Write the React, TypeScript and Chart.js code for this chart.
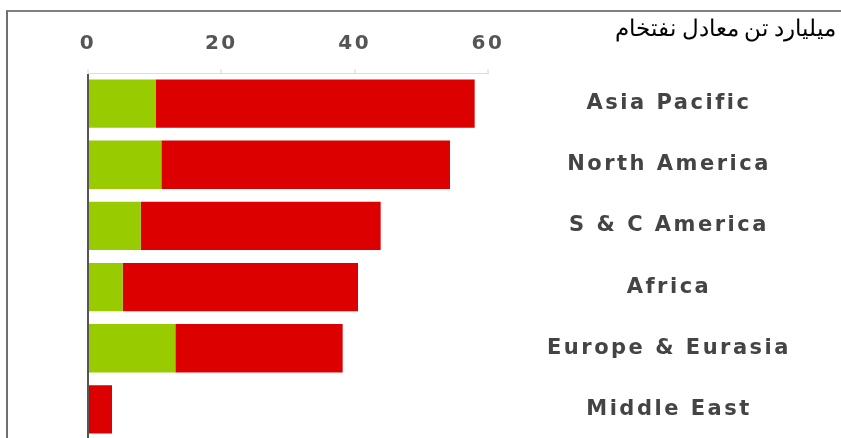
import React, { useEffect, useRef } from "react";
import { Chart, registerables } from "chart.js";

Chart.register(...registerables);

const categories = ["Asia Pacific", "North America", "S & C America", "Africa", "Europe & Eurasia", "Middle East"];
const greenValues = [10.2, 11.0, 7.9, 5.2, 13.1, 0];
const redValues = [47.8, 43.3, 36.0, 35.3, 25.1, 3.6];
const xMin = 0;
const xMax = 60;
const xStep = 20;
const unitTitle = "میلیارد تن معادل نفتخام";

const LABEL_FONT = "bold 21px 'DejaVu Sans'";
const SPACING = "2.5px";

export default function App() {
  const ref = useRef<HTMLCanvasElement | null>(null);

  useEffect(() => {
    const canvas = ref.current;
    if (!canvas) return;

    // measure widest category label so labels centre on a fixed column
    const tmp = document.createElement("canvas").getContext("2d") as any;
    tmp.font = LABEL_FONT;
    tmp.letterSpacing = SPACING;
    let widest = 0;
    categories.forEach((c) => {
      widest = Math.max(widest, tmp.measureText(c).width);
    });
    const plotRight = 488;
    const labelCenter = 661;
    const yPad = labelCenter - plotRight - widest / 2;

    const spacingPlugin = {
      id: "spacing",
      beforeLayout(chart: any) {
        chart.ctx.letterSpacing = SPACING;
      },
      beforeDraw(chart: any) {
        chart.ctx.letterSpacing = SPACING;
      },
    };

    const chart = new Chart(canvas, {
      type: "bar",
      data: {
        labels: categories,
        datasets: [
          { data: greenValues, backgroundColor: "#99CC00", barPercentage: 1, categoryPercentage: 0.79 },
          { data: redValues, backgroundColor: "#DD0000", barPercentage: 1, categoryPercentage: 0.79 },
        ],
      },
      options: {
        indexAxis: "y",
        animation: false,
        responsive: false,
        devicePixelRatio: 1,
        layout: { padding: { left: 88, right: 0, top: 18, bottom: 0 } },
        plugins: { legend: { display: false }, tooltip: { enabled: false }, title: { display: false } },
        scales: {
          x: {
            position: "top",
            stacked: true,
            min: xMin,
            max: xMax,
            z: 1,
            ticks: {
              stepSize: xStep,
              color: "#555",
              font: { family: "'DejaVu Sans'", size: 20, weight: "bold" },
              padding: 13.5,
            },
            grid: {
              display: true,
              drawOnChartArea: true,
              color: (ctx: any) => (ctx.tick && ctx.tick.value === 0 ? "#555" : "rgba(0,0,0,0)"),
              lineWidth: 2,
              tickLength: 4,
              tickColor: "#d6d6de",
              tickWidth: 1,
            },
            border: { display: true, color: "#dcdce4", width: 1 },
          },
          y: {
            position: "right",
            stacked: true,
            ticks: {
              color: "#444",
              font: { family: "'DejaVu Sans'", size: 21, weight: "bold" },
              crossAlign: "center",
              padding: yPad,
            },
            grid: { display: false },
            border: { display: false },
            afterFit: (s: any) => {
              s.width = 841 - plotRight;
              s.paddingTop = 0;
              s.paddingBottom = 0;
            },
          },
        },
      } as any,
      plugins: [spacingPlugin],
    });
    return () => chart.destroy();
  }, []);

  return (
    <div style={{ position: "fixed", left: 0, top: 0, width: 841, height: 438, overflow: "hidden", background: "#fff" }}>
      <canvas ref={ref} width={841} height={440} style={{ position: "absolute", left: 0, top: 0 }} />
      <div
        style={{
          position: "absolute",
          left: 6,
          top: 10,
          right: -4,
          bottom: -10,
          borderTop: "2px solid #808080",
          borderLeft: "2px solid #707070",
          pointerEvents: "none",
        }}
      />
      <div
        dir="rtl"
        style={{ position: "absolute", right: 5, top: 15, fontFamily: "serif", fontSize: 23, color: "#000", whiteSpace: "nowrap" }}
      >
        {unitTitle}
      </div>
    </div>
  );
}
